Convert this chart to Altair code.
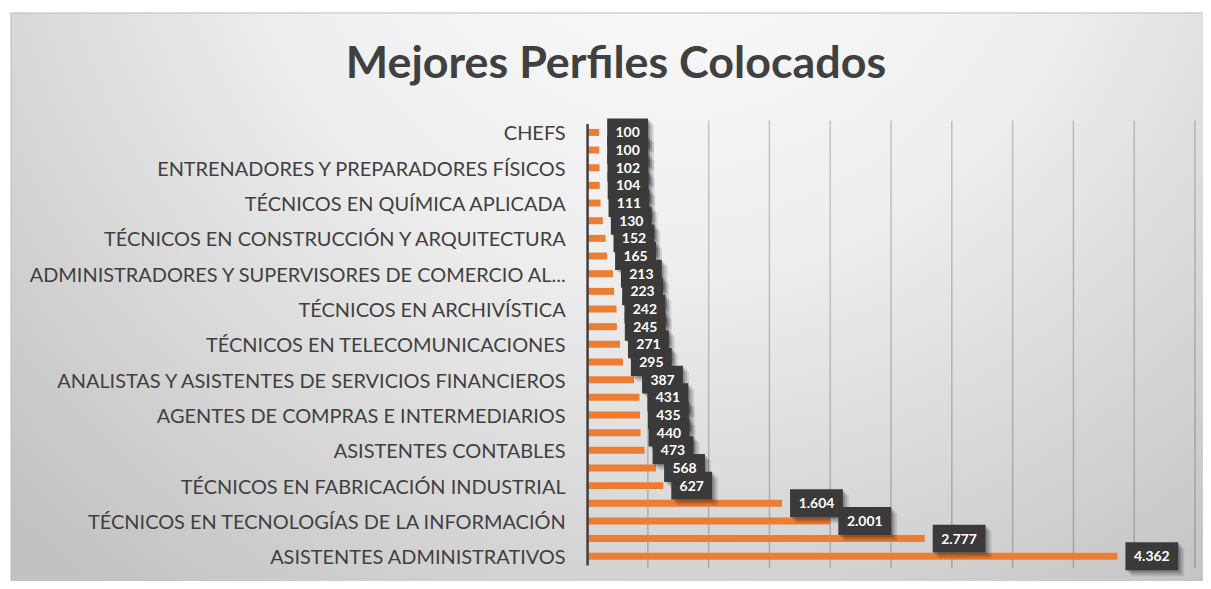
import json
import altair as alt
import pandas as pd

# ---- data ----
labels = [
    "CHEFS", "",
    "ENTRENADORES Y PREPARADORES FÍSICOS", "",
    "TÉCNICOS EN QUÍMICA APLICADA", "",
    "TÉCNICOS EN CONSTRUCCIÓN Y ARQUITECTURA", "",
    "ADMINISTRADORES Y SUPERVISORES DE COMERCIO AL...", "",
    "TÉCNICOS EN ARCHIVÍSTICA", "",
    "TÉCNICOS EN TELECOMUNICACIONES", "",
    "ANALISTAS Y ASISTENTES DE SERVICIOS FINANCIEROS", "",
    "AGENTES DE COMPRAS E INTERMEDIARIOS", "",
    "ASISTENTES CONTABLES", "",
    "TÉCNICOS EN FABRICACIÓN INDUSTRIAL", "",
    "TÉCNICOS EN TECNOLOGÍAS DE LA INFORMACIÓN", "",
    "ASISTENTES ADMINISTRATIVOS",
]
values = [100, 100, 102, 104, 111, 130, 152, 165, 213, 223, 242, 245, 271,
          295, 387, 431, 435, 440, 473, 568, 627, 1604, 2001, 2777, 4362]
grid_values = [500, 1000, 1500, 2000, 2500, 3000, 3500, 4000, 4500, 5000]
title_text = "Mejores Perfiles Colocados"

df = pd.DataFrame({"rank": list(range(len(values))), "value": values})
grid_df = pd.DataFrame({"g": grid_values})

W, H = 610, 443
FONT = "Lato"
ORANGE = "#ED7D31"
BOX = "#3a3a3a"

label_expr = json.dumps(labels, ensure_ascii=False) + "[datum.value]"

x_scale = alt.Scale(domain=[0, 5000], nice=False, zero=True)
y_enc = alt.Y(
    "rank:O",
    scale=alt.Scale(paddingInner=0, paddingOuter=0),
    axis=alt.Axis(
        title=None, ticks=False, grid=False, labelExpr=label_expr,
        labelFont=FONT, labelFontSize=20, labelColor="#404040",
        labelPadding=22, labelLimit=700, labelOffset=2,
        domainColor="#404040", domainWidth=2.5, zindex=1,
    ),
)

# background panel with radial gradient
bg = alt.Chart(alt.Data(values=[{}])).mark_rect(
    fill={
        "gradient": "radial",
        "x1": 0.55, "y1": 0.12, "r1": 0,
        "x2": 0.55, "y2": 0.12, "r2": 0.78,
        "stops": [
            {"offset": 0, "color": "#fdfdfd"},
            {"offset": 0.45, "color": "#eeeeee"},
            {"offset": 1, "color": "#c2c2c2"},
        ],
    },
    stroke="#bdbdbd", strokeWidth=1,
).encode(
    x=alt.value(-578), x2=alt.value(620),
    y=alt.value(-111), y2=alt.value(466),
)

title = alt.Chart(alt.Data(values=[{"t": title_text}])).mark_text(
    font=FONT, fontSize=45, fontWeight="bold", color="#404040",
    align="center", baseline="alphabetic",
).encode(
    x=alt.value(29), y=alt.value(-46), text="t:N",
)

grid = alt.Chart(grid_df).mark_rule(color="#000000", opacity=0.2, strokeWidth=1.5).encode(
    x=alt.X("g:Q", scale=x_scale, axis=None),
    y=alt.value(-3), y2=alt.value(H + 3),
)

base = alt.Chart(df)

bars = base.mark_bar(color=ORANGE, size=7).encode(
    x=alt.X("value:Q", scale=x_scale, axis=None),
    y=y_enc,
)

def boxes(cond, width, dxs, dys, color, opacity):
    return base.transform_filter(cond).mark_bar(
        color=color, opacity=opacity, size=28, yOffset=dys,
        xOffset=8 + dxs, x2Offset=8 + width + dxs,
    ).encode(
        x=alt.X("value:Q", scale=x_scale, axis=None),
        x2="value:Q",
        y=y_enc,
    )

small = "datum.value < 1000"
big = "datum.value >= 1000"

layers = []
for dd, op in [(6, 0.10), (4, 0.14), (2, 0.18)]:
    layers.append(boxes(small, 41, dd, dd, "#000000", op))
    layers.append(boxes(big, 53, dd, dd, "#000000", op))
layers.append(boxes(small, 41, 0, 0, BOX, 1))
layers.append(boxes(big, 53, 0, 0, BOX, 1))

def texts(cond, width):
    return base.transform_filter(cond).transform_calculate(
        lbl="replace(format(datum.value, ','), ',', '.')"
    ).mark_text(
        color="white", font=FONT, fontWeight="bold", fontSize=14,
        align="center", baseline="middle", dx=8 + width / 2, dy=1,
    ).encode(
        x=alt.X("value:Q", scale=x_scale, axis=None),
        y=y_enc,
        text="lbl:N",
    )

chart = alt.layer(
    bg, title, grid, bars, *layers, texts(small, 41), texts(big, 53)
).properties(
    width=W, height=H,
    autosize=alt.AutoSizeParams(type="none"),
    padding={"left": 581, "top": 115, "right": 8, "bottom": 15},
).configure_view(stroke=None).configure(background="white")

chart.save("out.html", embed_options={"renderer": "svg", "actions": False})
